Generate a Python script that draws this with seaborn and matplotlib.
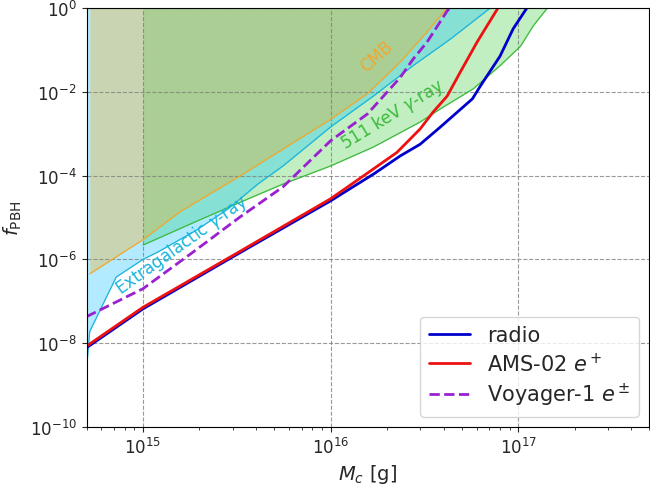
import matplotlib
matplotlib.use("Agg")
import matplotlib.pyplot as plt
import seaborn as sns
import pandas as pd
from matplotlib.ticker import NullLocator, FixedLocator

sns.set_style("ticks")
plt.rcParams['font.family'] = ['DejaVu Sans']
plt.rcParams['mathtext.fontset'] = 'dejavusans'

# radio
radio_M = [5.0e14, 1.0e15, 3.2e15, 1.0e16, 1.7e16, 2.35e16, 3.0e16, 3.85e16, 5.7e16, 6.3e16, 8.0e16, 9.4e16, 1.12e17]
radio_f = [7.8e-9, 6.6e-8, 1.35e-6, 2.5e-5, 1.1e-4, 2.95e-4, 5.6e-4, 1.45e-3, 6.8e-3, 1.4e-2, 7.1e-2, 0.32, 1.05]
# AMS-02 e+
ams_M = [5.0e14, 1.0e15, 3.2e15, 1.0e16, 1.69e16, 2.26e16, 3.0e16, 3.52e16, 4.18e16, 4.91e16, 6.04e16, 7.8e16]
ams_f = [8.5e-9, 7.2e-8, 1.45e-6, 2.8e-5, 1.44e-4, 3.6e-4, 1.3e-3, 3.3e-3, 7.9e-3, 2.95e-2, 0.155, 1.0]
# Voyager-1 e+-
voy_M = [5.0e14, 1.0e15, 1.85e15, 3.29e15, 5.58e15, 1.0e16, 1.57e16, 2.35e16, 2.75e16, 3.27e16, 4.18e16, 4.33e16]
voy_f = [4.3e-8, 2.0e-7, 1.5e-6, 1.03e-5, 5.4e-5, 6.8e-4, 2.95e-3, 2.2e-2, 6.0e-2, 0.155, 0.85, 1.0]
# CMB
cmb_M = [5.2e14, 1.0e15, 1.57e15, 3.29e15, 5.58e15, 1.0e16, 1.57e16, 2.35e16, 3.27e16, 4.18e16]
cmb_f = [4.5e-7, 2.95e-6, 1.35e-5, 9.8e-5, 4.3e-4, 2.2e-3, 9.0e-3, 5.1e-2, 0.27, 1.0]
# extragalactic gamma-ray
eg_M = [5.0e14, 5.2e14, 7.2e14, 1.0e15, 1.2e15, 1.9e15, 2.84e15, 4.1e15, 5.58e15, 1.0e16, 1.69e16, 2.75e16, 4.34e16, 7.1e16]
eg_f = [2.4e-9, 1.9e-8, 3.8e-7, 1.0e-6, 1.5e-6, 4.8e-6, 1.6e-5, 6.3e-5, 1.7e-4, 1.45e-3, 7.9e-3, 4.2e-2, 0.18, 1.0]
# 511 keV gamma-ray
kev_M = [1.0e15, 1.89e15, 3.29e15, 5.58e15, 1.0e16, 1.69e16, 3.0e16, 3.84e16, 5.75e16, 8.0e16, 1.03e17, 1.2e17, 1.43e17]
kev_f = [2.2e-6, 7.8e-6, 2.3e-5, 6.3e-5, 1.7e-4, 4.8e-4, 1.9e-3, 3.9e-3, 1.17e-2, 4.2e-2, 0.123, 0.37, 1.0]

fig = plt.figure(figsize=(6.5, 4.85), dpi=100)
ax = fig.add_axes([0.1331, 0.1175, 0.8659, 0.8639])
ax.set_xscale("log")
ax.set_yscale("log")

# shaded excluded regions
ax.fill_between(kev_M, kev_f, 1, color="limegreen", alpha=0.3, lw=0)
ax.fill_between(eg_M, eg_f, 1, color="deepskyblue", alpha=0.3, lw=0)
ax.fill_between(cmb_M, cmb_f, 1, color="orange", alpha=0.3, lw=0)

bounds = [(kev_M, kev_f, "#3cb93c"), (eg_M, eg_f, "#1ab4dc"), (cmb_M, cmb_f, "#f0a830")]
for m, f, c in bounds:
    sns.lineplot(x=m, y=f, ax=ax, color=c, lw=0.9, sort=False, estimator=None)

df_r = pd.DataFrame({"M": radio_M, "f": radio_f})
df_a = pd.DataFrame({"M": ams_M, "f": ams_f})
df_v = pd.DataFrame({"M": voy_M, "f": voy_f})
sns.lineplot(data=df_r, x="M", y="f", ax=ax, color="#0000cc", lw=2, sort=False, estimator=None, label="radio")
sns.lineplot(data=df_a, x="M", y="f", ax=ax, color="#ee1111", lw=2, sort=False, estimator=None, label="AMS-02 $e^+$")
sns.lineplot(data=df_v, x="M", y="f", ax=ax, color="#9a20d0", lw=2, ls="--", sort=False, estimator=None, label="Voyager-1 $e^\\pm$")

ax.text(1.75e16, 7.1e-2, "CMB", color="#f0a830", fontsize=12, rotation=42, ha="center", va="center", rotation_mode="anchor")
ax.text(1.61e15, 2.3e-6, "Extragalactic $\\gamma$-ray", color="#1ab4dc", fontsize=12, rotation=35.5, ha="center", va="center", rotation_mode="anchor")
ax.text(2.13e16, 2.95e-3, "511 keV $\\gamma$-ray", color="#3cb93c", fontsize=12, rotation=31.5, ha="center", va="center", rotation_mode="anchor")

ax.set_xlim(5e14, 5e17)
ax.set_ylim(1e-10, 1)
ax.yaxis.set_major_locator(FixedLocator([1e-10, 1e-8, 1e-6, 1e-4, 1e-2, 1]))
ax.yaxis.set_minor_locator(NullLocator())
ax.tick_params(which="major", length=3.5, width=0.8, labelsize=12)
ax.tick_params(which="minor", length=2, width=0.6)
for s in ax.spines.values():
    s.set_linewidth(0.8)
    s.set_color("black")

ax.set_axisbelow("line")
ax.grid(True, which="major", ls="--", color="gray", lw=0.8, alpha=0.8)

ax.set_xlabel("$M_c$ [g]", fontsize=14)
ax.set_ylabel("$f_{\\rm PBH}$", fontsize=14)
ax.legend(loc="lower right", fontsize=15, labelspacing=0.3, framealpha=0.8)

plt.savefig("out.png", dpi=100)
